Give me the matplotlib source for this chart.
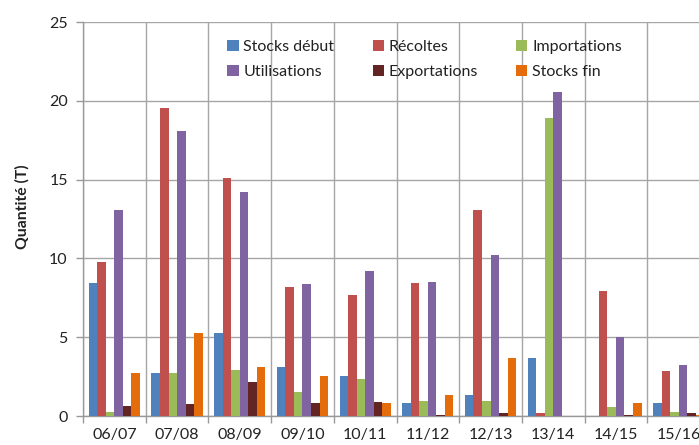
import matplotlib
matplotlib.use("Agg")
import matplotlib.pyplot as plt
import numpy as np

categories = ["06/07", "07/08", "08/09", "09/10", "10/11", "11/12", "12/13", "13/14", "14/15", "15/16"]
series_names = ["Stocks début", "Récoltes", "Importations", "Utilisations", "Exportations", "Stocks fin"]
stocks_debut = [8.42, 2.75, 5.29, 3.09, 2.55, 0.80, 1.31, 3.66, 0.00, 0.80]
recoltes     = [9.79, 19.56, 15.12, 8.16, 7.70, 8.42, 13.07, 0.21, 7.95, 2.88]
importations = [0.25, 2.75, 2.92, 1.50, 2.35, 0.97, 0.97, 18.90, 0.59, 0.25]
utilisations = [13.05, 18.06, 14.23, 8.35, 9.20, 8.48, 10.19, 20.56, 5.01, 3.22]
exportations = [0.65, 0.74, 2.16, 0.80, 0.87, 0.08, 0.21, 0.00, 0.06, 0.21]
stocks_fin   = [2.75, 5.29, 3.09, 2.56, 0.80, 1.31, 3.66, 0.00, 0.80, 0.08]
series = [stocks_debut, recoltes, importations, utilisations, exportations, stocks_fin]
colors = ["#4F81BD", "#C0504D", "#9BBB59", "#8064A2", "#632523", "#E46C0A"]

plt.rcParams['font.family'] = ['Lato', 'DejaVu Sans']

fig = plt.figure(figsize=(6.99, 4.45), dpi=100)
ax = fig.add_axes([83/699, 29/445, 627/699, 394/445])

x = np.arange(len(categories))
bw = 0.136
n = len(series)
handles = []
for k, (vals, c, name) in enumerate(zip(series, colors, series_names)):
    off = (k - (n - 1) / 2) * bw
    h = ax.bar(x + off, vals, width=bw, color=c, label=name, zorder=3, linewidth=0)
    handles.append(h)

ax.set_xlim(-0.5, len(categories) - 0.5)
ax.set_ylim(0, 25)
ax.set_yticks([0, 5, 10, 15, 20, 25])
ax.set_xticks(np.arange(-0.5, len(categories) + 0.5, 1.0))
ax.set_xticklabels([])
ax.set_xticks(x, minor=True)
ax.set_xticklabels(categories, minor=True)
ax.tick_params(axis='x', which='minor', length=0, pad=9, labelsize=11.5, colors='#222222')
ax.tick_params(axis='x', which='major', length=5, color='#999999', width=1)
ax.tick_params(axis='y', length=5, color='#999999', width=1, labelsize=11.5, labelcolor='#222222', pad=6)

ax.grid(True, which='major', color='#A6A6A6', linewidth=1, zorder=0)
for s in ['top', 'right']:
    ax.spines[s].set_visible(False)
for s in ['left', 'bottom']:
    ax.spines[s].set_color('#999999')
    ax.spines[s].set_linewidth(1)

ax.set_ylabel("Quantité (T)", fontsize=11.3, fontweight='bold', color='#222222',
              va='center', ha='center')
ax.yaxis.set_label_coords(-0.097, 0.53)

# legend in row-major order: reorder handles for column-first fill
order = [0, 3, 1, 4, 2, 5]
leg = ax.legend([handles[i] for i in order], [series_names[i] for i in order],
                ncol=3, loc='upper left', bbox_to_anchor=(0.22, 0.971),
                frameon=False, fontsize=11.5, handlelength=0.7, handleheight=0.7,
                handletextpad=0.3, columnspacing=2.4, labelspacing=0.7,
                borderaxespad=0)
for t in leg.get_texts():
    t.set_color('#222222')

fig.savefig("out.png", dpi=100)
